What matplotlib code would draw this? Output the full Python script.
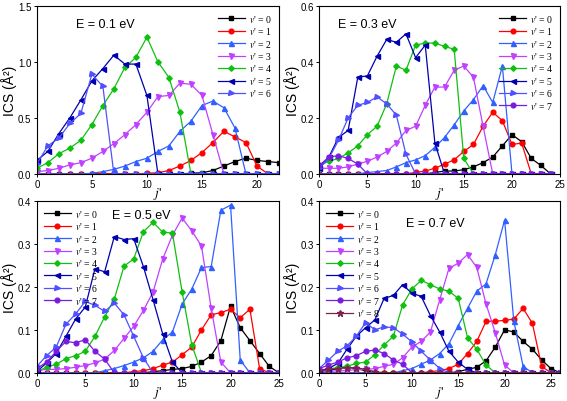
import matplotlib
matplotlib.use('Agg')
import matplotlib.pyplot as plt

plt.rcParams['font.family'] = ['Liberation Sans', 'DejaVu Sans']
plt.rcParams['mathtext.fontset'] = 'stix'

# ICS values (A^2), one list per v' for each collision energy
j1 = list(range(0, 23))
e1_v0 = [0, 0, 0, 0, 0, 0, 0, 0, 0, 0, 0, 0, 0, 0, 0.005, 0.01, 0.03, 0.07, 0.11, 0.14, 0.12, 0.11, 0.10]
e1_v1 = [0, 0, 0, 0, 0, 0, 0, 0, 0, 0, 0.005, 0.01, 0.03, 0.07, 0.12, 0.19, 0.28, 0.38, 0.33, 0.28, 0.07, 0, 0]
e1_v2 = [0, 0, 0, 0, 0, 0.005, 0.02, 0.04, 0.07, 0.11, 0.14, 0.2, 0.25, 0.38, 0.47, 0.61, 0.65, 0.59, 0.41, 0, 0, 0, 0]
e1_v3 = [0.02, 0.03, 0.05, 0.08, 0.1, 0.14, 0.2, 0.27, 0.35, 0.44, 0.55, 0.69, 0.70, 0.81, 0.80, 0.70, 0.35, 0, 0, 0, 0, 0, 0]
e1_v4 = [0.05, 0.1, 0.18, 0.23, 0.3, 0.44, 0.61, 0.76, 0.95, 1.04, 1.22, 1.0, 0.86, 0.55, 0, 0, 0, 0, 0, 0, 0, 0, 0]
e1_v5 = [0.12, 0.2, 0.36, 0.5, 0.66, 0.83, 0.94, 1.06, 0.98, 0.98, 0.70, 0, 0, 0, 0, 0, 0, 0, 0, 0, 0, 0, 0]
e1_v6 = [0.09, 0.25, 0.32, 0.45, 0.54, 0.89, 0.78, 0, 0, 0, 0, 0, 0, 0, 0, 0, 0, 0, 0, 0, 0, 0, 0]

j2 = list(range(0, 25))
e2_v0 = [0, 0, 0, 0, 0, 0, 0, 0, 0, 0, 0, 0, 0.005, 0.01, 0.01, 0.015, 0.025, 0.04, 0.06, 0.1, 0.14, 0.115, 0.055, 0.03, 0]
e2_v1 = [0, 0, 0, 0, 0, 0, 0, 0, 0, 0, 0.005, 0.01, 0.02, 0.035, 0.05, 0.08, 0.105, 0.17, 0.22, 0.19, 0.105, 0.11, 0, 0, 0]
e2_v2 = [0, 0, 0, 0, 0, 0.005, 0.008, 0.012, 0.025, 0.04, 0.05, 0.065, 0.095, 0.13, 0.175, 0.225, 0.265, 0.315, 0.255, 0.385, 0, 0, 0, 0, 0]
e2_v3 = [0.02, 0.02, 0.02, 0.025, 0.035, 0.045, 0.06, 0.08, 0.11, 0.155, 0.17, 0.245, 0.31, 0.31, 0.37, 0.385, 0.345, 0.17, 0, 0, 0, 0, 0, 0, 0]
e2_v4 = [0.03, 0.045, 0.055, 0.075, 0.1, 0.14, 0.17, 0.25, 0.385, 0.37, 0.46, 0.467, 0.467, 0.455, 0.445, 0.055, 0, 0, 0, 0, 0, 0, 0, 0, 0]
e2_v5 = [0.02, 0.06, 0.13, 0.155, 0.345, 0.35, 0.42, 0.48, 0.47, 0.5, 0.415, 0.46, 0.11, 0, 0, 0, 0, 0, 0, 0, 0, 0, 0, 0, 0]
e2_v6 = [0.02, 0.055, 0.12, 0.2, 0.245, 0.255, 0.275, 0.25, 0.21, 0.07, 0, 0, 0, 0, 0, 0, 0, 0, 0, 0, 0, 0, 0, 0, 0]
e2_v7 = [0.03, 0.06, 0.065, 0.055, 0.035, 0, 0, 0, 0, 0, 0, 0, 0, 0, 0, 0, 0, 0, 0, 0, 0, 0, 0, 0, 0]

j3 = list(range(0, 26))
e3_v0 = [0, 0, 0, 0, 0, 0, 0, 0, 0, 0, 0, 0, 0.003, 0.005, 0.008, 0.01, 0.015, 0.025, 0.04, 0.075, 0.155, 0.105, 0.075, 0.045, 0.015, 0]
e3_v1 = [0, 0, 0, 0, 0, 0, 0, 0, 0, 0, 0.003, 0.005, 0.01, 0.018, 0.025, 0.042, 0.06, 0.1, 0.135, 0.14, 0.148, 0.128, 0.148, 0.01, 0, 0]
e3_v2 = [0, 0, 0, 0, 0, 0, 0, 0.005, 0.01, 0.017, 0.025, 0.035, 0.05, 0.077, 0.095, 0.16, 0.195, 0.245, 0.247, 0.378, 0.39, 0.03, 0, 0, 0, 0]
e3_v3 = [0.005, 0.008, 0.008, 0.01, 0.013, 0.017, 0.023, 0.032, 0.052, 0.08, 0.108, 0.145, 0.188, 0.265, 0.32, 0.36, 0.33, 0.295, 0.15, 0.025, 0, 0, 0, 0, 0, 0]
e3_v4 = [0.003, 0.013, 0.02, 0.033, 0.04, 0.05, 0.085, 0.13, 0.172, 0.248, 0.265, 0.328, 0.35, 0.327, 0.325, 0.188, 0.065, 0, 0, 0, 0, 0, 0, 0, 0, 0]
e3_v5 = [0.003, 0.023, 0.045, 0.085, 0.125, 0.153, 0.242, 0.235, 0.317, 0.31, 0.312, 0.247, 0.17, 0.09, 0.025, 0, 0, 0, 0, 0, 0, 0, 0, 0, 0, 0]
e3_v6 = [0.015, 0.04, 0.06, 0.113, 0.137, 0.166, 0.157, 0.143, 0.162, 0.135, 0.085, 0.035, 0, 0, 0, 0, 0, 0, 0, 0, 0, 0, 0, 0, 0, 0]
e3_v7 = [0.01, 0.025, 0.05, 0.073, 0.07, 0.077, 0.05, 0.032, 0, 0, 0, 0, 0, 0, 0, 0, 0, 0, 0, 0, 0, 0, 0, 0, 0, 0]

j4 = list(range(0, 27))
e4_v0 = [0.003, 0.005, 0.01, 0.013, 0.01, 0.005, 0, 0, 0, 0, 0, 0, 0, 0, 0, 0.003, 0.008, 0.013, 0.028, 0.06, 0.1, 0.095, 0.073, 0.055, 0.03, 0.01, 0]
e4_v1 = [0, 0, 0, 0, 0, 0, 0, 0, 0, 0, 0, 0, 0.003, 0.005, 0.01, 0.02, 0.045, 0.073, 0.12, 0.12, 0.122, 0.125, 0.15, 0.115, 0.015, 0, 0]
e4_v2 = [0, 0, 0, 0, 0, 0, 0, 0, 0, 0.005, 0.01, 0.02, 0.03, 0.045, 0.068, 0.11, 0.15, 0.19, 0.207, 0.275, 0.355, 0.12, 0.015, 0, 0, 0, 0]
e4_v3 = [0.003, 0.003, 0.005, 0.005, 0.008, 0.008, 0.01, 0.015, 0.02, 0.035, 0.06, 0.073, 0.095, 0.17, 0.243, 0.255, 0.275, 0.245, 0.16, 0.093, 0.018, 0, 0, 0, 0, 0, 0]
e4_v4 = [0.005, 0.008, 0.013, 0.015, 0.022, 0.025, 0.042, 0.065, 0.085, 0.158, 0.195, 0.215, 0.205, 0.195, 0.19, 0.173, 0.082, 0.055, 0.018, 0, 0, 0, 0, 0, 0, 0, 0]
e4_v5 = [0.005, 0.01, 0.022, 0.055, 0.085, 0.105, 0.123, 0.173, 0.18, 0.205, 0.185, 0.178, 0.133, 0.095, 0.05, 0.025, 0.008, 0, 0, 0, 0, 0, 0, 0, 0, 0, 0]
e4_v6 = [0.01, 0.03, 0.05, 0.063, 0.085, 0.117, 0.1, 0.107, 0.105, 0.09, 0.072, 0.05, 0.03, 0.01, 0, 0, 0, 0, 0, 0, 0, 0, 0, 0, 0, 0, 0]
e4_v7 = [0.01, 0.018, 0.025, 0.035, 0.04, 0.05, 0.053, 0.045, 0.03, 0.02, 0, 0, 0, 0, 0, 0, 0, 0, 0, 0, 0, 0, 0, 0, 0, 0, 0]
e4_v8 = [0.005, 0.008, 0.01, 0.012, 0.012, 0.008, 0.003, 0, 0, 0, 0, 0, 0, 0, 0, 0, 0, 0, 0, 0, 0, 0, 0, 0, 0, 0, 0]

colors = ['#000000', '#ff0000', '#3060ff', '#c040ff', '#10c010', '#0000b0', '#5050ff', '#7a1ce0', '#802050']
markers = ['s', 'o', '^', 'v', 'D', '<', '>', 'o', '*']
msizes = [3, 3.4, 3.6, 3.6, 2.8, 3.6, 3.6, 3.4, 4.5]

panels = [
    (j1, [e1_v0, e1_v1, e1_v2, e1_v3, e1_v4, e1_v5, e1_v6], 'E = 0.1 eV', (0.16, 0.89), 22, 1.5, [0, 0.5, 1.0, 1.5], 'upper right'),
    (j2, [e2_v0, e2_v1, e2_v2, e2_v3, e2_v4, e2_v5, e2_v6, e2_v7], 'E = 0.3 eV', (0.08, 0.89), 25, 0.6, [0, 0.2, 0.4, 0.6], 'upper right'),
    (j3, [e3_v0, e3_v1, e3_v2, e3_v3, e3_v4, e3_v5, e3_v6, e3_v7], 'E = 0.5 eV', (0.31, 0.92), 25, 0.4, [0, 0.1, 0.2, 0.3, 0.4], 'upper left'),
    (j4, [e4_v0, e4_v1, e4_v2, e4_v3, e4_v4, e4_v5, e4_v6, e4_v7, e4_v8], 'E = 0.7 eV', (0.36, 0.87), 26, 0.4, [0, 0.1, 0.2, 0.3, 0.4], 'upper left'),
]

boxes = [
    [0.065, 0.565, 0.427, 0.418],
    [0.563, 0.565, 0.425, 0.418],
    [0.065, 0.070, 0.427, 0.428],
    [0.563, 0.070, 0.425, 0.428],
]

fig = plt.figure(figsize=(5.67, 4.02), dpi=100)

for box, (jj, series, title, tpos, xmax, ymax, yt, loc) in zip(boxes, panels):
    ax = fig.add_axes(box)
    for k, vals in enumerate(series):
        ax.plot(jj, vals, color=colors[k], marker=markers[k], markersize=msizes[k],
                linewidth=0.9, label="$\\mathit{v}$' = %d" % k)
    ax.set_xlim(0, xmax)
    ax.set_ylim(0, ymax)
    ax.set_xticks([0, 5, 10, 15, 20, 25] if xmax >= 25 else [0, 5, 10, 15, 20])
    ax.set_yticks(yt)
    ax.set_yticklabels(['%.1f' % v for v in yt])
    ax.tick_params(labelsize=7, direction='out', length=2.5, width=0.7, pad=1.5)
    for s in ax.spines.values():
        s.set_linewidth(0.8)
    ax.set_ylabel('ICS (Å²)', fontsize=10)
    ax.yaxis.set_label_coords(-0.08, 0.5)
    ax.set_xlabel("$j$'", fontsize=9.5)
    ax.xaxis.set_label_coords(0.5, -0.065)
    ax.text(tpos[0], tpos[1], title, transform=ax.transAxes, fontsize=9, va='center')
    ax.legend(loc=loc, frameon=False, handlelength=2.8, handletextpad=0.4,
              labelspacing=0.15, borderaxespad=0.3, prop={'family': 'Liberation Serif', 'size': 7})

fig.savefig('out.png', dpi=100)
